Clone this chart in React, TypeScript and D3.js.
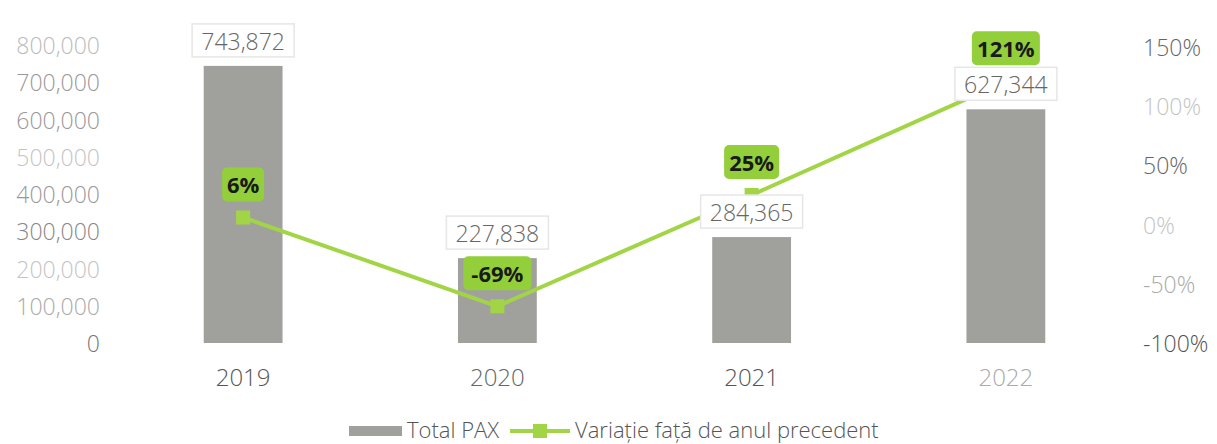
import React from "react";
import * as d3 from "d3";

const years = ["2019", "2020", "2021", "2022"];
const totalPax = [743872, 227838, 284365, 627344];
const variation = [0.06, -0.69, 0.25, 1.21];
const leftTicks = [0, 100000, 200000, 300000, 400000, 500000, 600000, 700000, 800000];
const rightTicks = [-1, -0.5, 0, 0.5, 1, 1.5];
const leftTickColors = ["#777", "#aaa", "#c4c4c4", "#888", "#999", "#c4c4c4", "#999", "#999", "#bbb"];
const rightTickColors = ["#555", "#aaa", "#c4c4c4", "#666", "#c4c4c4", "#666"];
const yearColors = ["#555", "#666", "#555", "#aaa"];

const W = 1217;
const H = 444;
const FONT = "'Open Sans', 'DejaVu Sans', sans-serif";
const GREEN = "#a2d545";
const LABEL_GREEN = "#92cf3a";
const BAR = "#a0a19d";

export default function App() {
  const x = d3
    .scaleBand<string>()
    .domain(years)
    .range([116, 1133])
    .paddingInner(0.69)
    .paddingOuter(0.345);
  const yL = d3.scaleLinear().domain([0, 800000]).range([343, 45]);
  const yR = d3.scaleLinear().domain([-1, 1.5]).range([343, 47]);
  const fmtN = d3.format(",");
  const fmtP0 = d3.format(".0%");
  const fmtP = (v: number) => fmtP0(v).replace("\u2212", "-");
  const cx = (d: string) => (x(d) as number) + x.bandwidth() / 2;

  const line = d3
    .line<number>()
    .x((_, i) => cx(years[i]))
    .y((v) => yR(v));

  return (
    <svg
      width={W}
      height={H}
      style={{ position: "absolute", left: 0, top: 0, background: "#fff" }}
      fontFamily={FONT}
    >
      <rect x={0} y={0} width={W} height={H} fill="#fff" />
      {/* left axis */}
      {leftTicks.map((t, i) => (
        <text
          key={"l" + t}
          x={100}
          y={yL(t)}
          textAnchor="end"
          dominantBaseline="central"
          fontSize={23}
          fontWeight={300}
          fill={leftTickColors[i]}
        >
          {fmtN(t)}
        </text>
      ))}
      {/* right axis */}
      {rightTicks.map((t, i) => (
        <text
          key={"r" + t}
          x={1143}
          y={yR(t)}
          textAnchor="start"
          dominantBaseline="central"
          fontSize={23}
          fontWeight={300}
          fill={rightTickColors[i]}
        >
          {fmtP(t)}
        </text>
      ))}
      {/* bars */}
      {years.map((yr, i) => (
        <rect
          key={"b" + yr}
          x={x(yr)}
          y={yL(totalPax[i])}
          width={x.bandwidth()}
          height={yL(0) - yL(totalPax[i])}
          fill={BAR}
        />
      ))}
      {/* year labels */}
      {years.map((yr, i) => (
        <text
          key={"x" + yr}
          x={cx(yr)}
          y={376}
          textAnchor="middle"
          dominantBaseline="central"
          fontSize={24}
          fontWeight={300}
          fill={yearColors[i]}
        >
          {yr}
        </text>
      ))}
      {/* line */}
      <path d={line(variation) || ""} fill="none" stroke={GREEN} strokeWidth={4} />
      {variation.map((v, i) => (
        <rect
          key={"m" + i}
          x={cx(years[i]) - 7}
          y={yR(v) - 7}
          width={14}
          height={14}
          fill={GREEN}
        />
      ))}
      {/* bar value labels */}
      {years.map((yr, i) => {
        const top = yL(totalPax[i]) - 9;
        return (
          <g key={"bl" + yr}>
            <rect
              x={cx(yr) - 51}
              y={top - 33}
              width={102}
              height={33}
              fill="#fff"
              stroke="#e6e6e6"
              strokeWidth={1.5}
            />
            <text
              x={cx(yr)}
              y={top - 16}
              textAnchor="middle"
              dominantBaseline="central"
              fontSize={23}
              fontWeight={300}
              fill="#666"
            >
              {fmtN(totalPax[i])}
            </text>
          </g>
        );
      })}
      {/* variation labels */}
      {variation.map((v, i) => {
        const c = cx(years[i]);
        const cy = yR(v) - 33;
        const txt = fmtP(v);
        const w = txt.length * 13 + 16;
        return (
          <g key={"vl" + i}>
            <rect
              x={c - w / 2}
              y={cy - 17}
              width={w}
              height={34}
              rx={5}
              fill={LABEL_GREEN}
            />
            <text
              x={c}
              y={cy}
              textAnchor="middle"
              dominantBaseline="central"
              fontSize={22}
              fontWeight="bold"
              fill="#1a1a1a"
            >
              {txt}
            </text>
          </g>
        );
      })}
      {/* legend */}
      <rect x={349} y={426} width={53} height={10} fill={BAR} />
      <text x={407} y={429} dominantBaseline="central" fontSize={22} fontWeight={300} fill="#555">
        Total PAX
      </text>
      <line x1={510} x2={570} y1={431} y2={431} stroke={GREEN} strokeWidth={4} />
      <rect x={533} y={424} width={14} height={14} fill={GREEN} />
      <text x={575} y={429} dominantBaseline="central" fontSize={22} fontWeight={300} fill="#555">
        Variație față de anul precedent
      </text>
    </svg>
  );
}
